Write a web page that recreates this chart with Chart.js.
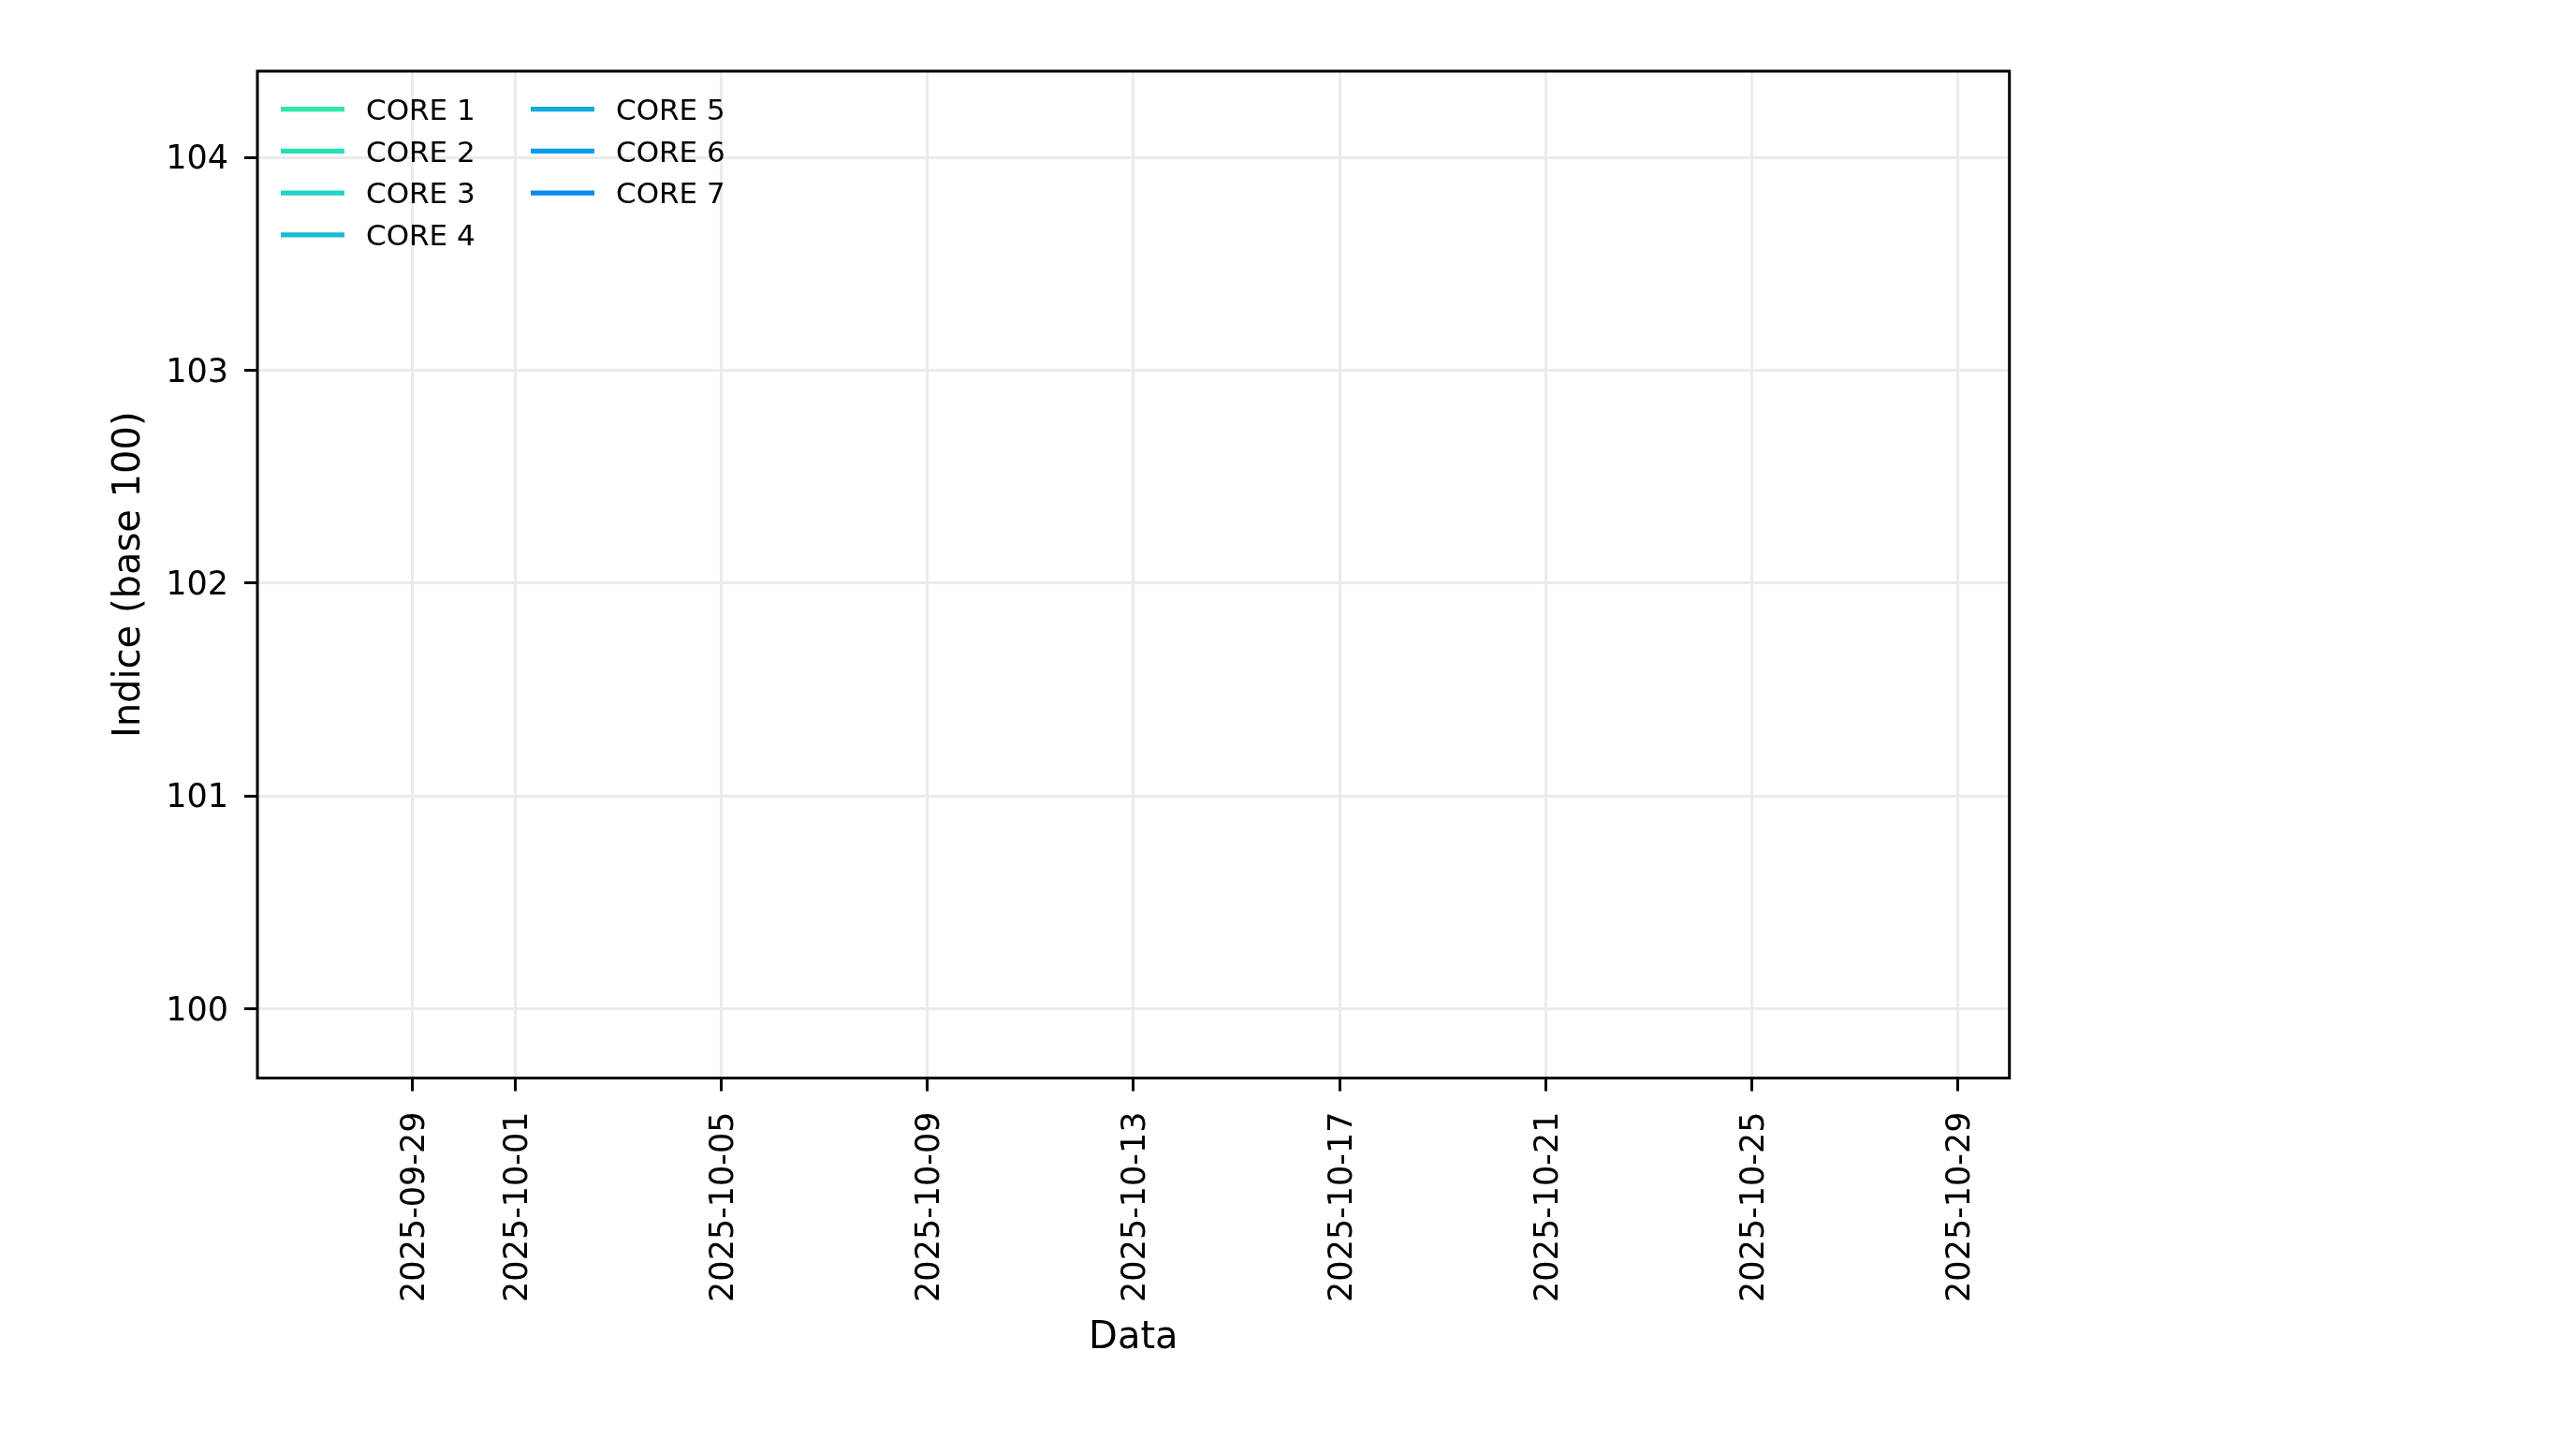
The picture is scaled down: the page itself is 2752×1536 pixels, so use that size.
<!DOCTYPE html>
<html>
<head>
<meta charset="utf-8">
<title>Indice base 100 - CORE</title>
<script src="https://cdn.jsdelivr.net/npm/chart.js@4"></script>
<style>
  body { margin: 0; background: #ffffff; }
  canvas { display: block; }
</style>
</head>
<body>
<canvas id="grafico" width="2752" height="1536"></canvas>
<script>
// séries (o gráfico original não mostra nenhuma linha, só a legenda)
const nomesCores = ["CORE 1", "CORE 2", "CORE 3", "CORE 4", "CORE 5", "CORE 6", "CORE 7"];
const core1 = [];
const core2 = [];
const core3 = [];
const core4 = [];
const core5 = [];
const core6 = [];
const core7 = [];

// eixos
const inicioEixoX = "2025-09-26";
const fimEixoX = "2025-10-30";
const datasTicks = ["2025-09-29", "2025-10-01", "2025-10-05", "2025-10-09", "2025-10-13",
  "2025-10-17", "2025-10-21", "2025-10-25", "2025-10-29"];
const ticksY = [100, 101, 102, 103, 104];
const minY = 99.675;
const maxY = 104.406;

const coresLinhas = ["#2ee8a8", "#29dfb6", "#22d2c6", "#1abdd0", "#14acdb", "#0c9ce6", "#0589f2"];

function dia(texto) {
  return Date.parse(texto + "T00:00:00Z") / 86400000;
}

function formatarData(valor) {
  return new Date(valor * 86400000).toISOString().slice(0, 10);
}

const series = [core1, core2, core3, core4, core5, core6, core7];
const datasets = [];
for (let i = 0; i < nomesCores.length; i++) {
  datasets.push({
    label: nomesCores[i],
    data: series[i],
    borderColor: coresLinhas[i],
    backgroundColor: coresLinhas[i],
    borderWidth: 5.25,
    pointRadius: 0,
    fill: false,
  });
}

// moldura completa do eixo (como no matplotlib)
const moldura = {
  id: "moldura",
  afterDraw(chart) {
    const { ctx, chartArea } = chart;
    ctx.save();
    ctx.strokeStyle = "#000000";
    ctx.lineWidth = 3;
    ctx.strokeRect(chartArea.left, chartArea.top,
      chartArea.right - chartArea.left, chartArea.bottom - chartArea.top);
    ctx.restore();
  },
};

// legenda em duas colunas, no canto superior esquerdo
const legendaColunas = {
  id: "legendaColunas",
  afterDatasetsDraw(chart) {
    const { ctx, chartArea } = chart;
    const linhasPorColuna = 4;
    ctx.save();
    ctx.font = '31px "DejaVu Sans"';
    ctx.textAlign = "left";
    ctx.textBaseline = "alphabetic";
    chart.data.datasets.forEach((ds, i) => {
      const col = Math.floor(i / linhasPorColuna);
      const lin = i % linhasPorColuna;
      const x0 = chartArea.left + 25 + col * 267;
      const y = chartArea.top + 40.7 + lin * 44.7;
      ctx.strokeStyle = ds.borderColor;
      ctx.lineWidth = 5.25;
      ctx.beginPath();
      ctx.moveTo(x0, y);
      ctx.lineTo(x0 + 68, y);
      ctx.stroke();
      ctx.fillStyle = "#000000";
      ctx.fillText(ds.label, x0 + 91, y + 11.3);
    });
    ctx.restore();
  },
};

Chart.defaults.color = "#000000";
Chart.defaults.font.family = '"DejaVu Sans", sans-serif';

const config = {
  type: "line",
  data: { datasets: datasets },
  options: {
    responsive: false,
    animation: false,
    devicePixelRatio: 1,
    layout: {
      padding: { top: 76, right: 605.3, left: 0, bottom: 0 },
    },
    scales: {
      x: {
        type: "linear",
        min: dia(inicioEixoX),
        max: dia(fimEixoX),
        afterBuildTicks: (escala) => {
          escala.ticks = datasTicks.map((d) => ({ value: dia(d) }));
        },
        afterFit: (escala) => {
          escala.height = 1536 - 1151.5;
        },
        ticks: {
          autoSkip: false,
          minRotation: 90,
          maxRotation: 90,
          padding: 22,
          labelOffset: 3.5,
          font: { size: 35 },
          callback: (valor) => formatarData(valor),
        },
        grid: {
          color: "#ebebeb",
          lineWidth: 3,
          tickLength: 14,
          tickColor: "#000000",
          tickWidth: 3,
        },
        border: { display: false },
        title: {
          display: true,
          text: "Data",
          font: { size: 40 },
          padding: { top: 0, bottom: 82 },
        },
      },
      y: {
        min: minY,
        max: maxY,
        afterBuildTicks: (escala) => {
          escala.ticks = ticksY.map((v) => ({ value: v }));
        },
        afterFit: (escala) => {
          escala.width = 275;
        },
        ticks: {
          padding: 17,
          labelOffset: 3,
          font: { size: 35 },
          callback: (valor) => `${valor}`,
        },
        grid: {
          color: "#ebebeb",
          lineWidth: 3,
          tickLength: 14,
          tickColor: "#000000",
          tickWidth: 3,
        },
        border: { display: false },
        title: {
          display: true,
          text: "Indice (base 100)",
          font: { size: 40 },
          padding: { top: 115, bottom: 0 },
        },
      },
    },
    plugins: {
      legend: { display: false },
      tooltip: { enabled: false },
    },
  },
  plugins: [legendaColunas, moldura],
};

new Chart(document.getElementById("grafico"), config);
</script>
</body>
</html>
